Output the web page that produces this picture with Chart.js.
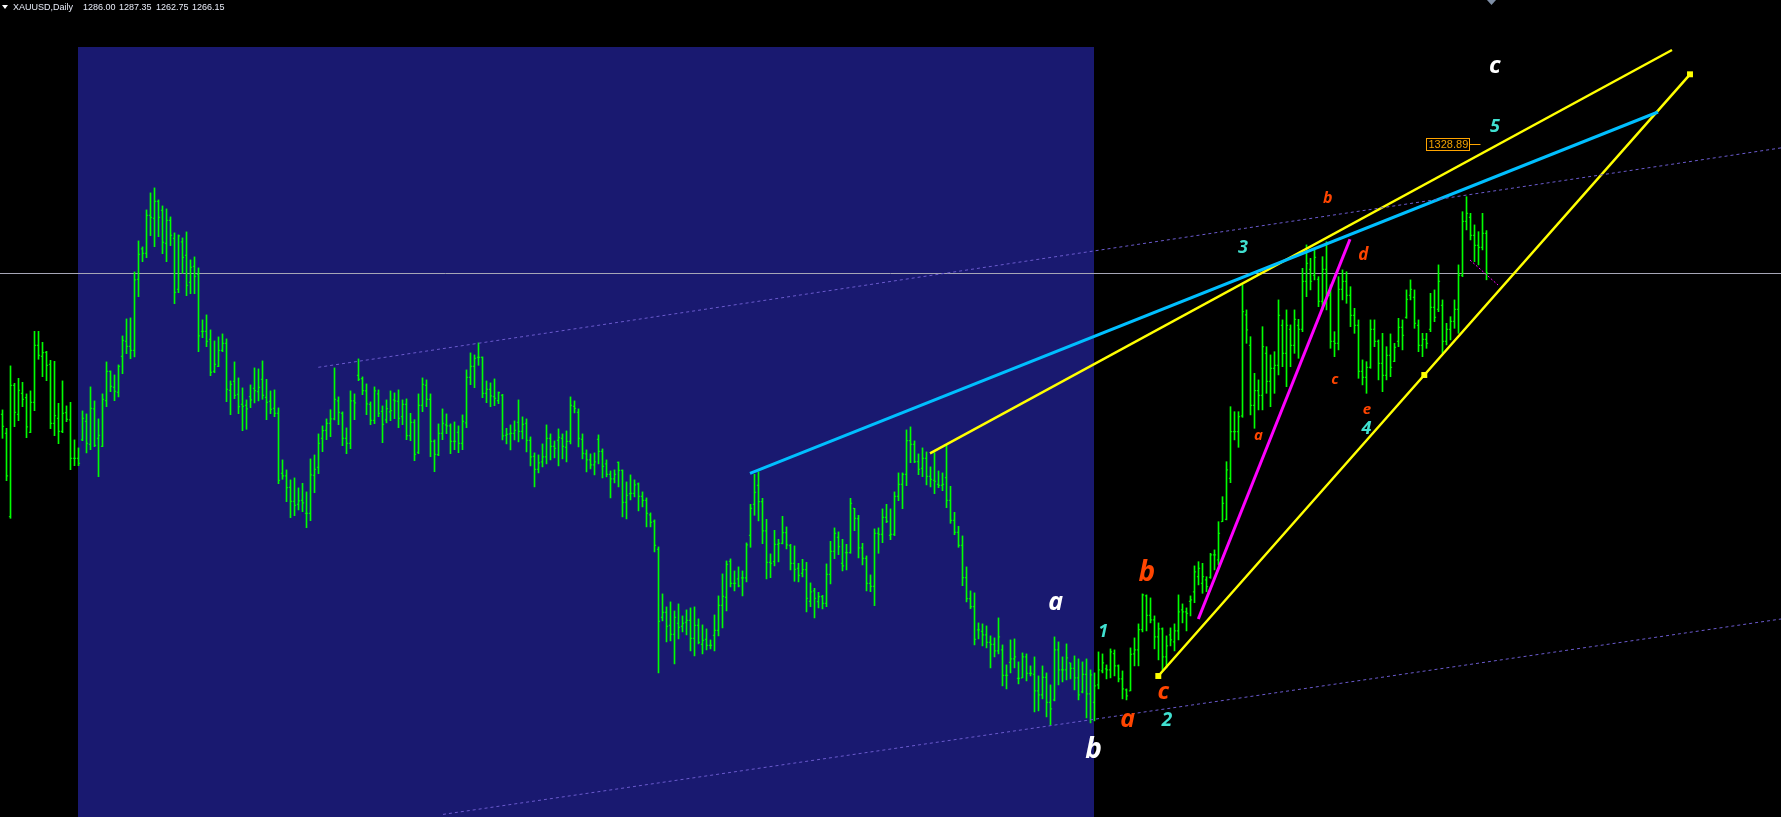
<!DOCTYPE html>
<html>
<head>
<meta charset="utf-8">
<title>XAUUSD,Daily</title>
<script src="https://cdn.jsdelivr.net/npm/chart.js"></script>
<style>
  html, body { margin: 0; padding: 0; background: #000; overflow: hidden; }
  canvas { display: block; background: #000; }
</style>
</head>
<body>
<canvas id="chart" width="1781" height="817"></canvas>
<script>
// daily bars, oldest first (price)
const opens = [
  1195.5,1186.0,1144.3,1210.0,1195.5,1206.0,1203.8,1186.5,1201.5,1230.0,
  1224.5,1226.5,1220.5,1191.0,1193.5,1187.0,1196.3,1192.7,1173.5,1173.5,
  1182.7,1192.0,1180.5,1198.2,1183.5,1179.5,1202.3,1217.0,1209.0,1206.5,
  1224.5,1232.0,1229.5,1227.5,1263.0,1278.2,1276.0,1295.0,1293.5,1302.0,
  1297.5,1281.0,1292.5,1283.5,1258.0,1281.7,1275.0,1261.5,1269.5,1265.5,
  1237.0,1237.0,1233.0,1217.0,1219.5,1227.5,1231.0,1207.5,1212.0,1205.5,
  1200.5,1200.0,1204.3,1208.5,1206.8,1213.0,1204.0,1202.0,1198.5,1196.0,
  1166.0,1164.7,1159.0,1152.0,1150.5,1152.5,1146.0,1146.0,1165.0,1169.0,
  1183.5,1187.5,1191.0,1193.2,1202.2,1196.0,1183.5,1181.0,1202.2,1215.0,
  1213.3,1207.2,1200.5,1192.5,1205.7,1197.0,1192.7,1196.7,1202.7,1202.0,
  1194.3,1200.5,1184.8,1191.5,1176.5,1200.0,1210.0,1203.0,1182.0,1175.3,
  1186.0,1190.2,1189.7,1182.0,1186.5,1181.0,1191.2,1214.0,1219.5,1224.0,
  1224.0,1206.0,1208.0,1204.3,1202.3,1205.0,1185.0,1185.7,1186.0,1191.5,
  1187.0,1191.0,1182.5,1174.5,1168.0,1171.7,1174.2,1183.5,1179.5,1182.5,
  1183.5,1179.0,1182.0,1199.5,1196.5,1183.0,1175.7,1172.7,1170.2,1183.0,
  1177.0,1170.7,1165.5,1163.2,1171.5,1167.5,1151.5,1155.8,1156.0,1160.7,
  1154.5,1152.5,1145.2,1142.0,1128.0,1094.0,1096.5,1090.0,1085.5,1091.0,
  1089.5,1091.5,1092.5,1083.5,1090.0,1080.5,1083.0,1080.0,1085.0,1087.5,
  1100.0,1104.0,1122.0,1111.0,1113.2,1113.7,1113.7,1135.0,1150.5,1160.0,
  1151.8,1137.2,1121.5,1121.8,1130.5,1131.0,1136.3,1129.8,1121.0,1118.5,
  1116.0,1117.8,1102.0,1107.2,1101.8,1104.3,1101.0,1115.5,1127.0,1134.0,
  1121.0,1126.3,1126.3,1148.5,1143.3,1128.7,1123.5,1111.0,1109.5,1136.0,
  1135.5,1144.0,1135.0,1135.5,1154.5,1160.5,1165.5,1182.3,1180.5,1171.8,
  1168.5,1173.5,1164.5,1162.5,1160.5,1160.0,1163.8,1152.5,1142.5,1136.5,
  1130.0,1113.8,1103.3,1099.3,1087.7,1087.0,1085.2,1081.5,1080.5,1077.2,
  1077.7,1065.0,1071.5,1073.2,1063.5,1063.7,1074.2,1066.0,1065.5,1057.2,
  1055.2,1064.0,1051.5,1052.7,1077.7,1067.7,1067.7,1071.2,1068.5,1063.7,
  1056.7,1065.5,1055.7,1051.5,1060.2,1067.2,1068.2,1067.7,1075.8,1069.7,
  1063.2,1057.7,1057.2,1075.7,1077.7,1087.8,1104.7,1095.0,1092.7,1084.2,
  1088.2,1074.2,1085.2,1081.7,1087.2,1097.7,1096.7,1102.0,1106.7,1114.3,
  1111.0,1112.7,1114.0,1125.2,1122.7,1141.8,1143.0,1163.5,1186.8,1186.8,
  1194.7,1245.2,1230.0,1200.0,1207.3,1205.0,1226.0,1212.0,1218.5,1220.0,
  1240.0,1226.0,1238.0,1230.0,1240.0,1238.0,1262.0,1268.0,1265.0,1263.0,
  1252.0,1268.0,1255.0,1232.0,1231.0,1258.0,1262.0,1255.0,1245.0,1240.0,
  1217.0,1214.0,1219.0,1238.0,1232.0,1221.0,1215.0,1225.0,1222.0,1232.0,
  1239.0,1244.0,1255.0,1254.0,1240.0,1230.0,1233.0,1238.0,1249.0,1248.0,
  1250.0,1232.0,1238.0,1242.0,1248.0,1265.0,1292.0,1294.0,1285.0,1280.0,
  1279.0,1286.00
];
const highs = [
  1197.7,1188.5,1219.7,1211.0,1213.5,1211.5,1205.7,1207.2,1237.0,1237.0,
  1231.5,1227.0,1222.5,1222.0,1201.0,1212.2,1199.7,1201.5,1182.7,1178.7,
  1197.2,1195.7,1209.2,1202.2,1193.2,1205.7,1221.7,1217.2,1215.2,1220.2,
  1234.7,1243.2,1243.7,1266.7,1282.2,1279.2,1297.7,1306.2,1308.7,1302.7,
  1299.7,1298.2,1294.2,1286.2,1285.2,1283.7,1286.7,1272.7,1274.2,1268.7,
  1242.7,1245.2,1237.7,1232.2,1234.2,1235.7,1233.2,1212.2,1221.7,1213.7,
  1208.7,1202.7,1210.2,1218.7,1218.2,1222.2,1213.0,1207.2,1207.7,1198.7,
  1172.7,1167.7,1162.7,1163.7,1158.7,1161.0,1156.7,1173.2,1175.2,1185.7,
  1189.7,1193.2,1197.8,1218.7,1204.2,1196.7,1188.7,1207.2,1205.7,1223.2,
  1214.2,1210.7,1201.7,1209.2,1207.7,1199.7,1202.7,1207.2,1206.2,1207.7,
  1202.7,1203.2,1196.0,1192.8,1205.7,1213.7,1212.7,1205.7,1182.7,1190.7,
  1198.2,1195.7,1190.7,1191.7,1189.7,1195.2,1217.7,1226.2,1225.2,1231.2,
  1224.2,1212.2,1211.2,1213.2,1206.7,1205.5,1188.5,1190.2,1192.2,1202.7,
  1194.2,1193.2,1184.2,1176.2,1175.2,1180.7,1190.2,1185.7,1182.2,1188.2,
  1185.7,1187.2,1204.2,1202.2,1198.2,1185.7,1177.7,1175.7,1176.2,1185.2,
  1178.2,1172.7,1167.2,1167.7,1171.7,1167.7,1161.7,1165.2,1162.7,1161.2,
  1156.7,1153.7,1146.2,1142.7,1129.2,1105.7,1099.2,1101.7,1097.2,1100.7,
  1094.7,1097.7,1098.7,1099.2,1093.2,1090.2,1088.2,1082.7,1095.2,1104.7,
  1115.7,1122.2,1123.2,1117.2,1119.2,1117.2,1131.2,1150.5,1165.5,1166.7,
  1153.5,1143.0,1125.7,1137.5,1133.0,1144.5,1139.2,1130.5,1129.7,1121.0,
  1123.0,1121.5,1111.2,1108.5,1106.5,1105.0,1120.7,1132.0,1138.7,1136.7,
  1133.0,1130.5,1153.5,1148.5,1145.0,1131.0,1124.7,1115.2,1138.2,1138.7,
  1148.2,1150.5,1148.2,1156.7,1166.2,1166.2,1187.7,1189.2,1182.2,1175.7,
  1178.7,1176.7,1169.2,1176.3,1167.2,1166.2,1180.0,1159.5,1146.5,1139.5,
  1134.7,1119.2,1107.2,1106.2,1091.2,1090.7,1089.7,1084.7,1083.7,1093.7,
  1080.2,1070.2,1082.7,1083.2,1071.7,1076.2,1075.7,1069.7,1074.2,1064.7,
  1069.7,1066.2,1060.2,1084.2,1081.7,1074.2,1080.7,1071.2,1074.7,1073.2,
  1071.7,1073.2,1067.7,1066.2,1076.7,1075.7,1070.2,1078.2,1077.7,1070.2,
  1067.2,1058.2,1078.7,1083.7,1090.7,1105.7,1105.2,1103.7,1094.7,1091.2,
  1088.7,1084.7,1088.7,1090.7,1105.2,1100.7,1098.7,1104.7,1119.7,1121.8,
  1121.0,1114.3,1126.0,1127.7,1141.8,1154.3,1171.8,1199.3,1196.8,1196.8,
  1260.2,1247.7,1234.3,1216.0,1212.7,1239.3,1229.3,1225.2,1226.8,1252.7,
  1242.7,1247.7,1240.2,1247.7,1243.0,1268.5,1280.2,1273.5,1277.7,1264.3,
  1274.3,1281.8,1260.2,1236.8,1264.3,1267.7,1266.8,1259.3,1248.5,1242.7,
  1222.7,1221.8,1242.7,1242.7,1232.7,1236.0,1229.3,1235.7,1231.0,1243.5,
  1242.7,1257.7,1262.7,1257.7,1242.7,1236.0,1236.0,1256.0,1257.7,1270.2,
  1252.7,1241.0,1244.3,1252.7,1270.2,1296.8,1304.3,1296.0,1290.2,1286.8,
  1296.0,1287.35
];
const lows = [
  1183.5,1162.3,1143.5,1189.3,1192.3,1199.3,1183.8,1186.3,1197.3,1223.0,
  1214.3,1212.3,1188.3,1184.8,1180.8,1186.3,1191.8,1167.8,1169.8,1169.8,
  1182.3,1176.2,1177.8,1179.3,1164.3,1179.3,1199.3,1206.8,1202.3,1204.2,
  1215.8,1225.8,1223.3,1224.2,1254.3,1271.8,1273.8,1284.8,1279.3,1284.3,
  1275.8,1271.8,1279.8,1250.8,1256.3,1266.0,1254.8,1255.8,1255.8,1226.8,
  1233.8,1229.3,1214.8,1216.3,1219.3,1226.8,1201.8,1195.3,1203.3,1195.8,
  1187.3,1188.0,1198.8,1201.2,1202.2,1203.0,1192.8,1195.8,1194.3,1160.8,
  1163.0,1151.8,1143.8,1144.8,1147.7,1146.8,1138.8,1142.3,1156.3,1165.8,
  1176.8,1182.8,1184.3,1192.7,1190.3,1179.8,1175.8,1178.3,1192.8,1212.3,
  1205.3,1195.3,1190.3,1190.8,1194.3,1181.3,1191.2,1192.3,1193.3,1188.8,
  1190.3,1182.8,1182.3,1172.3,1175.8,1196.8,1199.3,1174.3,1166.8,1174.8,
  1182.8,1185.8,1175.8,1177.8,1176.3,1177.8,1188.8,1210.3,1208.8,1220.0,
  1203.8,1201.3,1199.3,1199.8,1200.8,1182.7,1180.7,1177.7,1182.7,1181.7,
  1183.2,1176.7,1169.7,1159.2,1166.2,1169.2,1170.7,1172.7,1173.7,1169.7,
  1173.2,1171.7,1180.7,1196.2,1179.2,1173.2,1166.7,1168.2,1165.2,1170.7,
  1163.7,1164.2,1153.7,1161.2,1159.2,1144.2,1143.2,1152.7,1154.2,1147.2,
  1149.2,1139.2,1139.2,1126.7,1066.2,1092.2,1081.7,1082.2,1070.7,1083.2,
  1086.7,1085.2,1077.2,1074.7,1080.7,1075.7,1077.7,1078.2,1077.2,1084.7,
  1088.7,1097.2,1109.2,1107.2,1109.2,1104.7,1111.7,1129.0,1145.0,1142.2,
  1130.8,1113.2,1113.8,1119.7,1121.7,1130.7,1128.2,1117.7,1112.0,1111.7,
  1114.2,1096.7,1099.3,1093.7,1098.7,1098.2,1099.3,1110.7,1123.3,1125.3,
  1117.2,1117.7,1126.0,1137.3,1123.7,1120.2,1107.2,1106.8,1099.8,1126.0,
  1131.3,1141.3,1132.8,1134.8,1152.3,1148.3,1159.8,1171.3,1171.3,1165.3,
  1164.3,1160.2,1159.2,1155.8,1158.8,1157.3,1148.8,1141.0,1135.3,1129.0,
  1109.8,1101.7,1098.3,1080.2,1083.2,1079.7,1078.7,1068.7,1074.2,1075.7,
  1059.7,1058.2,1066.2,1068.7,1060.7,1063.7,1062.2,1064.7,1046.7,1047.2,
  1053.2,1044.2,1040.2,1052.2,1060.2,1061.7,1062.7,1063.2,1057.7,1052.7,
  1056.2,1043.7,1041.2,1042.2,1058.2,1066.2,1063.2,1063.7,1064.7,1061.7,
  1053.2,1052.7,1057.2,1069.7,1069.7,1086.7,1087.2,1091.2,1078.2,1072.7,
  1067.7,1068.7,1079.7,1077.2,1082.7,1091.2,1087.2,1094.7,1101.3,1110.2,
  1106.0,1106.8,1113.5,1117.7,1120.2,1141.8,1142.7,1161.3,1182.7,1179.0,
  1194.0,1231.0,1195.2,1188.5,1197.7,1197.7,1206.0,1199.3,1206.0,1215.2,
  1219.3,1209.3,1219.3,1226.0,1223.5,1236.8,1254.3,1257.7,1262.7,1249.3,
  1247.7,1247.7,1228.5,1224.3,1227.7,1252.7,1251.0,1239.3,1236.0,1213.5,
  1210.2,1206.0,1218.5,1229.3,1212.7,1206.8,1212.7,1214.3,1221.8,1229.3,
  1227.7,1243.5,1252.7,1238.5,1226.8,1224.3,1228.5,1236.8,1241.8,1246.8,
  1226.0,1230.2,1232.7,1238.5,1236.0,1264.3,1287.7,1282.7,1271.8,1270.2,
  1277.7,1262.75
];
const closes = [
  1189.5,1164.7,1210.0,1196.5,1207.5,1203.0,1189.2,1201.5,1230.0,1225.0,
  1226.3,1220.0,1191.0,1194.8,1187.0,1196.0,1193.0,1173.5,1173.5,1171.0,
  1193.5,1181.0,1198.5,1180.0,1185.0,1203.0,1217.0,1209.5,1207.0,1219.5,
  1232.5,1229.5,1227.5,1262.7,1275.5,1276.0,1295.0,1294.0,1302.0,1294.0,
  1281.5,1292.5,1285.0,1256.5,1284.7,1274.0,1260.0,1269.0,1264.5,1234.7,
  1237.0,1232.0,1216.5,1220.5,1227.5,1231.0,1208.0,1210.5,1205.0,1199.3,
  1199.5,1198.2,1202.7,1207.3,1209.0,1205.0,1201.5,1198.0,1196.0,1162.5,
  1164.7,1158.8,1152.0,1150.0,1152.2,1151.2,1146.0,1165.2,1168.0,1181.0,
  1187.3,1191.0,1193.2,1203.0,1196.5,1183.5,1181.0,1202.2,1201.2,1213.0,
  1207.3,1200.7,1192.5,1207.2,1196.0,1190.5,1198.3,1197.3,1202.2,1193.5,
  1200.5,1184.8,1191.5,1175.5,1200.0,1210.5,1203.0,1182.0,1175.5,1186.0,
  1191.0,1189.7,1182.0,1182.0,1181.0,1192.0,1214.0,1219.5,1223.5,1224.0,
  1206.0,1208.0,1204.7,1203.5,1206.3,1184.7,1185.5,1186.0,1187.5,1187.0,
  1190.5,1182.5,1174.2,1168.0,1171.2,1174.2,1183.5,1179.5,1178.5,1184.0,
  1179.5,1182.0,1200.0,1198.5,1183.5,1176.0,1172.7,1170.2,1171.7,1177.0,
  1169.5,1165.5,1163.2,1165.5,1167.5,1151.5,1155.0,1156.0,1160.2,1154.5,
  1152.5,1146.0,1141.5,1130.0,1092.0,1096.5,1089.5,1085.5,1094.0,1089.0,
  1091.0,1092.5,1083.5,1090.0,1081.5,1082.5,1080.0,1080.0,1087.5,1100.0,
  1104.5,1120.5,1111.0,1111.0,1109.7,1113.7,1130.2,1148.5,1156.5,1151.8,
  1137.2,1121.5,1121.0,1130.5,1131.0,1136.3,1130.2,1121.0,1118.0,1115.0,
  1117.8,1103.5,1106.7,1103.5,1104.3,1101.0,1115.5,1127.0,1136.0,1129.3,
  1119.7,1126.3,1151.0,1143.5,1128.7,1123.5,1111.0,1109.5,1136.0,1135.5,
  1144.0,1142.0,1135.5,1154.5,1160.5,1165.5,1182.3,1180.5,1171.8,1168.0,
  1173.5,1164.5,1163.0,1162.0,1160.0,1160.5,1152.5,1142.5,1136.5,1130.0,
  1113.8,1103.3,1099.3,1083.0,1087.7,1085.2,1081.5,1080.5,1077.2,1084.2,
  1065.0,1065.0,1073.2,1074.2,1063.5,1074.2,1066.0,1066.0,1057.2,1055.2,
  1064.0,1051.5,1048.2,1077.7,1067.7,1067.7,1073.7,1068.5,1063.7,1055.2,
  1065.5,1055.7,1065.2,1059.7,1067.7,1071.2,1067.7,1076.7,1069.7,1063.2,
  1058.2,1054.7,1075.5,1077.7,1087.8,1105.2,1095.0,1092.7,1084.2,1088.2,
  1074.2,1079.7,1082.7,1087.2,1096.7,1096.7,1096.0,1102.7,1116.7,1118.5,
  1114.3,1109.3,1125.2,1125.2,1136.0,1151.0,1167.7,1186.8,1186.8,1194.3,
  1246.8,1237.7,1200.0,1207.3,1205.0,1229.3,1212.0,1218.5,1220.0,1245.0,
  1226.0,1240.0,1230.0,1243.0,1238.0,1262.0,1271.0,1262.0,1274.0,1252.0,
  1268.0,1255.0,1232.0,1231.0,1258.0,1262.0,1255.0,1245.0,1240.0,1217.0,
  1214.0,1219.0,1238.0,1232.0,1221.0,1215.0,1225.0,1219.0,1229.0,1239.0,
  1235.0,1253.0,1258.0,1241.0,1230.0,1233.0,1231.0,1249.0,1244.0,1262.0,
  1232.0,1238.0,1242.0,1248.0,1265.0,1292.0,1296.0,1285.0,1280.0,1279.0,
  1286.0,1266.15
];

// objects on the chart: [bar index, price]
const bidPrice = 1266.15;
const zoneFrom = 18.875, zoneTo = 272.875, zoneTop = 1379.15;
const channelTop = [[78.95, 1219.0], [444.625, 1328.7]];
const channelBottom = [[110.125, 995.45], [444.625, 1093.15]];
const blueLine = [[186.875, 1166.0], [413.875, 1346.65]];
const yellowTop = [[231.875, 1176.0], [417.375, 1377.65]];
const yellowBottom = [[288.95, 1064.65], [355.45, 1215.15], [421.875, 1365.5]];
const pinkLine = [[298.95, 1093.15], [336.875, 1283.0]];
const pinkDots = [[366.875, 1272.65], [373.875, 1260.15]];

// wave labels
const waveText  = ['c', '5', 'b', '3', 'd', 'c', 'e', '4', 'a', 'a', 'b', '1', 'c', 'a', '2', 'b'];
const waveBar   = [373.1, 373.1, 331.3, 310.1, 340.2, 333.1, 341.1, 341.0, 314.0, 263.3, 286.1, 275.2, 290.2, 281.3, 291.1, 272.8];
const wavePrice = [1369.6, 1339.0, 1303.6, 1278.6, 1275.2, 1212.6, 1198.0, 1188.0, 1184.6, 1101.3, 1116.0, 1086.8, 1056.8, 1042.6, 1042.6, 1027.8];
const waveDegree = ['W', 'T', 'R', 'T', 'R', 'R', 'R', 'T', 'R', 'W', 'R', 'T', 'R', 'R', 'T', 'W'];

const tagText = '1328.89', tagBar = 355.9, tagPrice = 1330.8;
const header = ['XAUUSD,Daily', '1286.00', '1287.35', '1262.75', '1266.15'];

// ---- styles
const degreeColor = { W: '#ffffff', R: '#ff4500', T: '#40e0d0' };
const waveSize = [24, 18, 16, 18, 17, 15, 15, 18, 15, 25, 28, 18, 24, 25, 19, 28];
const headerX = [13, 83, 119, 156, 192];

const pts = arr => arr.map(p => ({ x: p[0], y: p[1] }));
const lineSet = (arr, color, width, dash) => ({
  type: 'line', data: pts(arr), borderColor: color, borderWidth: width,
  borderDash: dash || [], pointRadius: 0, tension: 0, order: 0
});

const mt4 = {
  id: 'mt4',
  beforeDraw(chart) {
    const { ctx, width, height } = chart;
    ctx.save();
    ctx.fillStyle = '#000';
    ctx.fillRect(0, 0, width, height);
    ctx.restore();
  },
  beforeDatasetsDraw(chart) {
    const { ctx, chartArea: a, scales: { x, y } } = chart;
    ctx.save();
    const l = Math.round(x.getPixelForValue(zoneFrom));
    const r = Math.round(x.getPixelForValue(zoneTo));
    const t = Math.round(y.getPixelForValue(zoneTop));
    ctx.fillStyle = '#191970';
    ctx.fillRect(l, t, r - l, a.bottom - t);
    const by = Math.round(y.getPixelForValue(bidPrice)) + 0.5;
    ctx.strokeStyle = '#a6a6b6';
    ctx.lineWidth = 1;
    ctx.beginPath();
    ctx.moveTo(a.left, by);
    ctx.lineTo(a.right, by);
    ctx.stroke();
    ctx.restore();
  },
  afterDatasetsDraw(chart) {
    const { ctx, scales: { x, y } } = chart;
    ctx.save();
    ctx.textAlign = 'center';
    ctx.textBaseline = 'middle';
    waveText.forEach((t, i) => {
      ctx.font = 'italic bold ' + waveSize[i] + 'px "Open Sans", "DejaVu Sans", sans-serif';
      ctx.fillStyle = degreeColor[waveDegree[i]];
      ctx.fillText(t, x.getPixelForValue(waveBar[i]), y.getPixelForValue(wavePrice[i]));
    });
    // price tag
    const px = Math.round(x.getPixelForValue(tagBar)) + 0.5;
    const py = Math.round(y.getPixelForValue(tagPrice)) + 0.5;
    ctx.font = '11px "Liberation Sans", Arial, sans-serif';
    const w = Math.round(ctx.measureText(tagText).width) + 3;
    ctx.strokeStyle = '#ffa500';
    ctx.lineWidth = 1;
    ctx.strokeRect(px, py - 6, w, 12);
    ctx.beginPath();
    ctx.moveTo(px + w, py);
    ctx.lineTo(px + w + 11, py);
    ctx.stroke();
    ctx.fillStyle = '#f0a000';
    ctx.textAlign = 'left';
    ctx.fillText(tagText, px + 2, py + 0.5);
    ctx.restore();
  },
  afterDraw(chart) {
    const { ctx } = chart;
    ctx.save();
    ctx.fillStyle = '#ffffff';
    ctx.beginPath();
    ctx.moveTo(2, 5); ctx.lineTo(8, 5); ctx.lineTo(5, 9); ctx.closePath();
    ctx.fill();
    ctx.font = '9px "Liberation Sans", Arial, sans-serif';
    ctx.textBaseline = 'middle';
    ctx.fillStyle = '#e8ecf8';
    header.forEach((t, i) => ctx.fillText(t, headerX[i], 7.5));
    ctx.fillStyle = '#7f8fa6';
    ctx.beginPath();
    ctx.moveTo(1487, 0); ctx.lineTo(1496, 0); ctx.lineTo(1491.5, 5); ctx.closePath();
    ctx.fill();
    ctx.restore();
  }
};

new Chart(document.getElementById('chart'), {
  type: 'bar',
  data: {
    datasets: [
      lineSet(channelTop, '#6a5acd', 1, [3, 3]),
      lineSet(channelBottom, '#6a5acd', 1, [3, 3]),
      lineSet(blueLine, '#00bfff', 3),
      lineSet(yellowTop, '#ffff00', 2.5),
      Object.assign(lineSet(yellowBottom, '#ffff00', 2.5), {
        pointRadius: 4.2, pointStyle: 'rect', pointBackgroundColor: '#ffff00', pointBorderWidth: 0
      }),
      lineSet(pinkLine, '#ff00ff', 3),
      lineSet(pinkDots, '#ff00ff', 1, [2, 2]),
      {
        type: 'line', showLine: false, order: 1,
        data: opens.map((v, i) => ({ x: i - 0.25, y: v })),
        pointStyle: 'line', pointRadius: 0.6, pointBorderWidth: 1, pointBorderColor: '#00ff00'
      },
      {
        type: 'line', showLine: false, order: 1,
        data: closes.map((v, i) => ({ x: i + 0.25, y: v })),
        pointStyle: 'line', pointRadius: 0.6, pointBorderWidth: 1, pointBorderColor: '#00ff00'
      },
      {
        type: 'bar', order: 2,
        data: highs.map((h, i) => ({ x: i, y: [lows[i], h] })),
        backgroundColor: '#00ff00', borderWidth: 0, barThickness: 1
      }
    ]
  },
  options: {
    responsive: false,
    animation: false,
    devicePixelRatio: 1,
    events: [],
    layout: { padding: 0, autoPadding: false },
    plugins: { legend: { display: false }, tooltip: { enabled: false } },
    scales: {
      x: { type: 'linear', min: -0.625, max: 444.625, bounds: 'data', offset: false, display: false },
      y: { type: 'linear', min: 994.15, max: 1402.65, bounds: 'data', beginAtZero: false, display: false }
    }
  },
  plugins: [mt4]
});
</script>
</body>
</html>
